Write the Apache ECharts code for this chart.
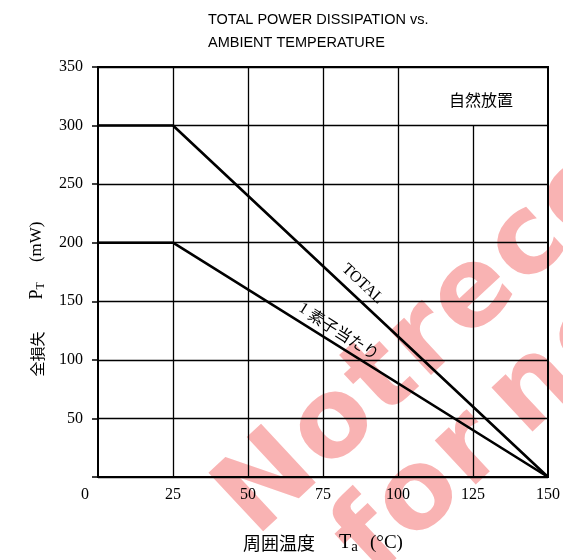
<!DOCTYPE html>
<html>
<head>
<meta charset="utf-8">
<script src="https://cdn.jsdelivr.net/npm/echarts@6/dist/echarts.min.js"></script>
<style>
html,body{margin:0;padding:0;background:#fff;}
#c{width:563px;height:560px;}
</style>
</head>
<body>
<div id="c"></div>
<script>
// ---- data ----
const tempC = [0, 25, 150];
const totalMW = [300, 300, 0];
const perElementMW = [200, 200, 0];
const xTicks = [0, 25, 50, 75, 100, 125, 150];
const yTicks = [0, 50, 100, 150, 200, 250, 300, 350];
const seriesNames = ['TOTAL', '1素子当たり'];
const titleLines = ['TOTAL POWER DISSIPATION vs.', 'AMBIENT TEMPERATURE'];
const noteText = '自然放置';
const watermarkLines = ['Notrecommended', 'for new design'];

const SERIF = '"Liberation Serif", "DejaVu Serif", serif';
const CJK = '"Noto Sans CJK JP", sans-serif';

const chart = echarts.init(document.getElementById('c'), null, {renderer: 'canvas'});

const xMin = xTicks[0], xMax = xTicks[xTicks.length - 1];
const yMin = yTicks[0], yMax = yTicks[yTicks.length - 1];
const step = (a) => a[1] - a[0];

// vertical grid lines (the one at 125 stops below the note band)
const vGrid = xTicks.slice(1, -1).map(v => [
  {coord: [v, yMin]},
  {coord: [v, v >= 125 ? 300 : yMax]}
]);

const option = {
  backgroundColor: '#fff',
  animation: false,
  title: {
    text: titleLines.join('\n'),
    left: 203, top: 3,
    textStyle: {fontFamily: '"Liberation Sans", Arial, sans-serif', fontSize: 14.5, fontWeight: 'normal', color: '#000', lineHeight: 23}
  },
  grid: {left: 98, right: 13, top: 67, bottom: 76, show: true, borderColor: '#000', borderWidth: 2, backgroundColor: 'transparent'},
  xAxis: {
    type: 'value', min: xMin, max: xMax, interval: step(xTicks),
    name: '周囲温度{it|T}{sub|a}{se|(°C)}',
    nameLocation: 'middle', nameGap: 54,
    nameTextStyle: {
      fontFamily: CJK, fontSize: 18, color: '#000',
      rich: {
        it: {fontFamily: SERIF, fontSize: 20, color: '#000', padding: [0, 0, 0, 24]},
        sub: {fontFamily: SERIF, fontSize: 15, color: '#000', padding: [9, 0, 0, 0]},
        se: {fontFamily: SERIF, fontSize: 19, color: '#000', padding: [0, 0, 0, 12]}
      }
    },
    axisLine: {show: true, lineStyle: {color: '#000', width: 2}},
    axisTick: {show: false},
    splitLine: {show: false},
    axisLabel: {
      fontFamily: SERIF, fontSize: 16, color: '#000', margin: 10,
      formatter: v => v === 0 ? '{z|0}' : String(v),
      rich: {z: {fontFamily: SERIF, fontSize: 16, color: '#000', padding: [0, 26, 0, 0]}}
    }
  },
  yAxis: {
    type: 'value', min: yMin, max: yMax, interval: step(yTicks),
    name: '全損失{it|P}{sub|T}{se|(mW)}',
    nameLocation: 'middle', nameGap: 51, nameRotate: 90,
    nameTextStyle: {
      fontFamily: CJK, fontSize: 15, color: '#000', padding: [0, 54, 0, 0],
      rich: {
        it: {fontFamily: SERIF, fontSize: 18, color: '#000', padding: [0, 0, 0, 32]},
        sub: {fontFamily: SERIF, fontSize: 12, color: '#000', padding: [8, 0, 0, 0]},
        se: {fontFamily: SERIF, fontSize: 17, color: '#000', padding: [0, 0, 0, 20]}
      }
    },
    axisLine: {show: true, lineStyle: {color: '#000', width: 2}},
    axisTick: {show: true, inside: false, length: 6, lineStyle: {color: '#000', width: 1.5}},
    splitLine: {show: true, lineStyle: {color: '#000', width: 1.3}},
    axisLabel: {
      fontFamily: SERIF, fontSize: 16, color: '#000', margin: 15,
      formatter: v => v === 0 ? '' : String(v)
    }
  },
  series: [
    {
      name: seriesNames[0], type: 'line', symbol: 'none', z: 5,
      data: tempC.map((t, i) => [t, totalMW[i]]),
      lineStyle: {color: '#000', width: 2.6},
      markLine: {
        silent: true, symbol: 'none', animation: false, z: 1,
        label: {show: false},
        lineStyle: {color: '#000', width: 1.3, type: 'solid'},
        data: vGrid
      }
    },
    {
      name: seriesNames[1], type: 'line', symbol: 'none', z: 5,
      data: tempC.map((t, i) => [t, perElementMW[i]]),
      lineStyle: {color: '#000', width: 2.6}
    }
  ]
};
chart.setOption(option);

// labels along the lines, placed from data coordinates
function lineLabel(xs, ys, atX, text, perp, font, rich) {
  let i = 0;
  while (i < xs.length - 2 && atX > xs[i + 1]) i++;
  const t = (atX - xs[i]) / (xs[i + 1] - xs[i]);
  const atY = ys[i] + t * (ys[i + 1] - ys[i]);
  const p = chart.convertToPixel({gridIndex: 0}, [atX, atY]);
  const a = chart.convertToPixel({gridIndex: 0}, [xs[i], ys[i]]);
  const b = chart.convertToPixel({gridIndex: 0}, [xs[i + 1], ys[i + 1]]);
  const ang = Math.atan2(b[1] - a[1], b[0] - a[0]);
  const nx = Math.sin(ang), ny = -Math.cos(ang);
  return {
    type: 'text', z: 10,
    x: p[0] + nx * perp, y: p[1] + ny * perp,
    rotation: -ang,
    style: {text: text, fill: '#000', font: font, align: 'center', verticalAlign: 'middle', rich: rich}
  };
}

const gTop = chart.convertToPixel({gridIndex: 0}, [xMax, yMax]);

// watermark: each letter laid out along a rotated baseline
const wmAngle = 43 * Math.PI / 180;
const wmSize = 110;
const wmFont = 'bold ' + wmSize + 'px "DejaVu Sans", sans-serif';
const wmTrack = 1.05;
const mctx = document.createElement('canvas').getContext('2d');
mctx.font = wmFont;
const dirX = Math.cos(wmAngle), dirY = -Math.sin(wmAngle);
function wmLine(str, firstCenter, spaceScale) {
  const els = [];
  let dist = 0;
  let prevW = null;
  for (const ch of str) {
    let w = mctx.measureText(ch).width;
    if (ch === ' ') w *= spaceScale;
    if (prevW !== null) dist += (prevW + w) / 2 * wmTrack;
    prevW = w;
    if (ch === ' ') continue;
    els.push({
      type: 'text', z: -10, silent: true,
      x: firstCenter[0] + dirX * dist, y: firstCenter[1] + dirY * dist,
      rotation: wmAngle,
      style: {text: ch, fill: '#f9b3b3', font: wmFont, align: 'center', verticalAlign: 'middle'}
    });
  }
  return els;
}
const watermark = [
  ...wmLine(watermarkLines[0], [270, 486], 1),
  ...wmLine(watermarkLines[1], [372, 542], 0.5)
];

chart.setOption({
  graphic: [
    ...watermark,
    lineLabel(tempC, totalMW, 85, seriesNames[0], 14, '16px ' + SERIF),
    lineLabel(tempC, perElementMW, 78, '{n|1} 素子当たり', 13, '16px ' + CJK,
      {n: {font: '16px ' + SERIF, fill: '#000'}}),
    {
      type: 'text', z: 10,
      x: gTop[0] - 35, y: gTop[1] + 33,
      style: {text: noteText, fill: '#000', font: '16px ' + CJK, align: 'right', verticalAlign: 'middle'}
    }
  ]
});
</script>
</body>
</html>
